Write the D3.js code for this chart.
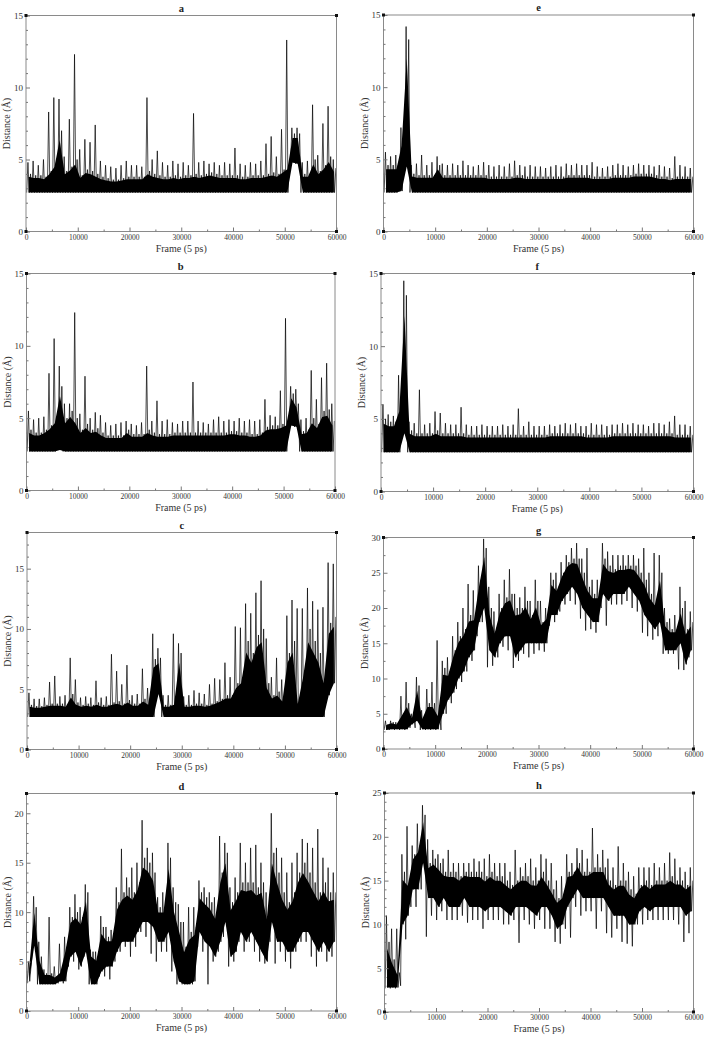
<!DOCTYPE html>
<html>
<head>
<meta charset="utf-8">
<script src="https://cdn.jsdelivr.net/npm/d3@7"></script>
<style>
  body { margin: 0; background: #fff; }
  svg { display: block; }
  text { font-family: "Liberation Serif", "DejaVu Serif", "Times New Roman", Times, serif; }
  .tick text { fill: #333; }
  .tick line { stroke: #777; }
</style>
</head>
<body>
<svg id="chart" width="707" height="1038"></svg>
<script>
// frame bins: each value is read off the picture for a 1000-frame slice
// lo / hi = dense band, pk = highest spike, dp = lowest dip
const binStarts = d3.range(60).map(i => i * 1000);
const xTicks = [0, 10000, 20000, 30000, 40000, 50000, 60000];

const aLo = [2.7,2.7,2.7,2.7,2.7,2.7,2.7,2.7,2.7,2.7, 2.7,2.7,2.7,2.7,2.7,2.7,2.7,2.7,2.7,2.7, 2.7,2.7,2.7,2.7,2.7,2.7,2.7,2.7,2.7,2.7, 2.7,2.7,2.7,2.7,2.7,2.7,2.7,2.7,2.7,2.7, 2.7,2.7,2.7,2.7,2.7,2.7,2.7,2.7,2.7,2.7, 2.7,4.8,4.7,2.7,2.7,2.7,2.7,2.7,2.7,2.7];
const aHi = [4.0,3.9,3.9,3.8,4.2,4.8,7.0,4.2,4.5,5.0, 3.9,4.3,4.2,4.0,3.8,3.7,3.6,3.6,3.7,3.8, 3.8,3.8,3.8,4.2,4.0,3.9,3.8,3.8,3.9,3.8, 3.9,3.9,4.0,3.9,4.0,4.1,4.0,3.9,3.9,3.9, 3.9,3.8,3.8,3.9,3.9,3.9,4.0,4.1,4.0,4.3, 4.6,6.8,6.8,4.0,4.0,5.0,4.2,4.6,5.2,4.4];
const aPk = [4.8,4.9,4.6,5.0,8.3,9.3,9.2,5.2,7.8,12.3, 5.7,6.4,6.2,7.4,4.9,4.6,4.5,4.4,4.6,4.9, 4.6,4.6,4.5,9.3,5.0,5.6,4.8,4.6,4.9,4.7, 4.8,4.6,8.2,4.8,4.9,4.7,4.8,4.6,4.8,4.7, 5.8,4.7,4.6,4.8,4.7,4.9,6.1,6.6,5.2,7.1, 13.3,7.2,7.2,4.8,4.9,8.8,5.3,7.5,8.7,5.0];

const bLo = [2.7,2.7,2.7,2.7,2.7,2.7,2.8,2.7,2.7,2.7, 2.7,2.7,2.7,2.7,2.7,2.7,2.7,2.7,2.7,2.7, 2.7,2.7,2.7,2.7,2.7,2.7,2.7,2.7,2.7,2.7, 2.7,2.7,2.7,2.7,2.7,2.7,2.7,2.7,2.7,2.7, 2.7,2.7,2.7,2.7,2.7,2.7,2.7,2.7,2.7,2.7, 2.7,4.5,4.4,2.7,2.7,2.7,2.7,2.7,2.7,2.7];
const bHi = [4.2,4.0,4.0,4.2,4.5,5.0,7.2,5.0,5.5,5.0, 4.2,4.6,4.2,4.3,4.0,3.8,3.8,3.8,3.8,4.2, 3.9,3.9,3.9,4.2,4.0,3.9,3.9,3.9,4.0,4.0, 4.0,4.0,4.0,4.0,4.0,4.0,4.0,4.0,4.0,4.1, 4.1,4.0,4.0,3.9,3.9,4.0,4.4,4.5,4.5,4.6, 4.8,6.7,6.0,4.1,4.2,5.0,4.6,5.5,5.6,4.8];
const bPk = [5.5,4.9,5.0,5.1,8.1,10.5,8.6,6.0,6.0,12.3, 5.3,7.9,5.0,5.4,5.2,4.7,4.5,4.6,4.7,4.8, 4.6,4.5,4.7,8.6,4.8,6.2,4.8,4.9,4.7,4.6, 4.8,4.8,7.5,4.8,4.7,4.6,4.9,5.1,4.8,4.9, 4.8,5.0,4.8,4.9,4.8,4.9,6.3,5.2,5.1,6.9, 11.9,7.2,7.0,4.9,5.0,8.3,6.3,7.8,8.8,6.0];

const cLo = [2.7,2.7,2.7,2.7,2.7,2.7,2.7,2.7,2.7,2.7, 2.7,2.7,2.7,2.7,2.7,2.7,2.7,2.7,2.7,2.7, 2.7,2.7,2.7,2.7,2.7,4.6,2.7,2.7,2.7,2.7, 2.7,2.7,2.7,2.7,2.7,2.7,2.7,2.7,2.7,2.7, 2.7,2.7,2.7,2.7,2.7,2.7,2.7,2.7,2.7,2.7, 2.7,2.7,2.7,2.7,2.7,2.7,2.7,2.7,4.5,5.5];
const cHi = [3.7,3.6,3.6,3.7,3.8,3.8,3.8,3.7,4.6,3.9, 3.7,3.8,3.7,3.9,3.7,3.7,3.9,4.0,3.8,4.1, 3.8,3.8,4.2,3.9,7.5,7.6,3.7,3.7,3.9,8.0, 3.7,3.7,3.8,3.8,3.7,3.8,4.0,4.2,4.5,4.5, 5.5,6.0,9.0,8.0,9.5,10.0,5.5,4.5,4.8,4.2, 8.0,9.0,4.0,6.5,10.0,9.0,8.0,6.0,10.5,11.0];
const cPk = [4.7,4.2,4.2,4.3,5.6,6.1,4.4,4.5,7.6,5.8, 4.3,4.4,4.3,5.7,4.3,4.4,7.9,6.5,5.4,7.0, 4.5,4.6,6.7,5.1,9.6,8.4,4.5,4.5,9.6,8.8, 4.4,4.5,4.9,4.7,4.6,5.4,5.9,5.8,7.2,6.0, 10.2,10.1,12.1,11.3,13.0,14.0,9.2,6.0,7.6,5.8, 11.1,12.4,11.7,11.7,13.4,12.3,11.6,11.8,15.5,15.4];

const dLo = [3.0,6.6,2.7,2.7,2.7,2.7,3.0,3.0,5.5,6.0, 4.5,6.0,2.7,2.7,4.0,4.5,4.5,6.0,7.0,7.0, 7.0,8.0,9.0,9.0,8.5,7.0,7.0,8.0,5.0,3.0, 2.7,2.7,3.0,8.0,7.0,6.5,5.5,7.0,9.0,5.5, 6.0,8.0,7.0,8.0,7.0,6.0,5.0,9.0,7.0,7.0, 6.0,6.0,7.0,8.0,8.0,7.0,6.0,7.0,6.0,7.0];
const dHi = [4.5,10.5,5.5,3.8,3.8,3.5,4.0,6.5,9.5,10.0, 9.5,12.0,6.0,5.5,8.5,7.5,7.5,11.0,12.0,12.5, 12.0,13.0,15.5,15.0,14.0,10.5,10.5,15.5,11.0,9.0, 6.5,8.0,8.5,12.0,11.5,11.0,10.0,14.0,16.0,11.0, 12.0,13.0,13.0,13.0,12.5,13.0,10.0,16.0,14.0,12.0, 11.0,12.0,14.0,15.0,14.0,13.0,12.0,13.0,12.0,12.0];
const dPk = [5.0,11.6,7.0,4.2,9.5,4.5,6.8,7.5,10.5,11.8, 10.5,12.8,6.2,6.0,9.6,8.5,8.2,12.5,16.4,13.5, 14.5,15.0,19.3,16.5,16.0,11.5,12.0,17.0,12.5,10.8, 9.0,10.5,10.5,13.2,12.5,12.0,11.5,17.7,17.0,12.5, 13.5,17.0,15.0,16.5,16.8,15.0,12.0,20.0,16.5,15.5, 14.0,15.0,16.0,17.4,17.0,16.5,18.4,15.5,14.5,14.0];
const dDp = [2.8,6.0,2.7,2.7,2.7,2.7,2.8,2.8,4.5,5.0, 4.2,5.5,2.7,2.7,3.5,3.5,3.2,5.0,6.0,6.5, 5.5,6.5,8.0,7.5,5.8,5.0,6.0,6.0,4.0,2.7, 2.7,2.7,2.7,6.5,6.0,2.7,5.0,6.0,7.5,4.5, 5.0,7.0,6.0,7.0,6.0,5.0,4.8,7.0,4.8,6.0, 5.0,4.3,6.0,7.0,7.0,5.5,4.5,6.0,5.0,5.5];

const eLo = [2.7,2.7,2.7,2.8,4.5,2.7,2.7,2.7,2.7,2.7, 2.7,2.7,2.7,2.7,2.7,2.7,2.7,2.7,2.7,2.7, 2.7,2.7,2.7,2.7,2.7,2.7,2.7,2.7,2.7,2.7, 2.7,2.7,2.7,2.7,2.7,2.7,2.7,2.7,2.7,2.7, 2.7,2.7,2.7,2.7,2.7,2.7,2.7,2.7,2.7,2.7, 2.7,2.7,2.7,2.7,2.7,2.7,2.7,2.7,2.7,2.7];
const eHi = [4.6,4.6,4.6,6.5,13.3,4.0,3.9,3.9,3.9,3.9, 4.6,3.9,3.9,3.9,3.9,3.9,3.9,3.9,3.9,3.9, 3.8,3.8,3.8,3.8,3.8,3.9,3.9,3.8,3.8,3.8, 3.8,3.8,3.8,3.8,3.8,3.9,3.9,3.9,3.9,3.9, 3.8,3.8,3.8,3.8,3.9,3.9,3.9,3.9,4.0,4.0, 4.0,4.0,3.9,3.8,3.8,3.7,3.8,3.8,3.8,3.8];
const ePk = [5.5,5.2,5.3,7.2,14.2,4.6,4.7,5.3,4.6,4.8, 5.2,4.7,4.6,4.7,4.6,4.9,4.6,4.5,4.6,4.8, 4.6,4.5,4.6,4.5,4.7,4.9,4.6,4.5,4.6,4.5, 4.5,4.4,4.5,4.6,4.5,4.7,4.6,4.7,4.6,4.6, 4.8,4.5,4.4,4.5,4.6,4.7,4.6,4.5,4.6,4.7, 4.6,4.6,4.5,4.6,4.5,4.4,5.2,4.6,4.5,4.4];

const fLo = [2.7,2.7,2.7,2.7,4.0,2.7,2.7,2.7,2.7,2.7, 2.7,2.7,2.7,2.7,2.7,2.7,2.7,2.7,2.7,2.7, 2.7,2.7,2.7,2.7,2.7,2.7,2.7,2.7,2.7,2.7, 2.7,2.7,2.7,2.7,2.7,2.7,2.7,2.7,2.7,2.7, 2.7,2.7,2.7,2.7,2.7,2.7,2.7,2.7,2.7,2.7, 2.7,2.7,2.7,2.7,2.7,2.7,2.7,2.7,2.7,2.7];
const fHi = [5.0,4.8,4.8,6.0,13.5,4.2,4.0,4.0,4.0,4.0, 4.2,4.0,4.0,4.0,4.0,4.0,3.9,3.9,3.9,3.9, 3.9,3.9,3.9,3.9,3.9,3.9,3.9,3.9,3.9,3.9, 3.9,3.9,4.0,4.0,4.0,4.0,4.0,4.0,4.0,3.9, 3.9,3.9,3.9,3.9,4.0,4.0,4.0,4.0,4.0,4.0, 4.0,4.0,4.0,4.0,4.0,4.0,3.9,3.9,3.9,3.9];
const fPk = [6.0,5.3,5.2,8.0,14.5,4.8,4.7,7.0,4.6,4.7, 5.5,5.4,4.7,4.6,4.6,5.8,4.6,4.5,4.5,4.6, 4.5,4.5,4.5,4.6,4.5,4.6,5.7,4.5,4.8,4.5, 4.5,4.5,4.6,4.5,4.6,4.7,4.6,4.7,4.5,4.5, 4.7,4.6,4.6,4.5,4.6,4.6,4.7,4.6,4.7,4.6, 4.6,4.5,4.7,4.7,4.6,4.8,5.2,4.6,4.6,4.5];

const gLo = [2.7,2.8,2.8,2.8,2.8,3.5,4.0,2.8,2.8,2.8, 2.8,5.0,7.0,8.0,10.0,11.0,13.0,14.0,18.0,20.0, 14.0,13.0,15.0,16.0,16.0,13.0,14.0,15.0,15.0,15.0, 15.0,15.0,19.0,19.0,21.0,22.0,23.0,22.0,20.0,19.0, 18.0,18.0,22.0,21.0,22.0,22.0,22.0,23.0,22.0,21.0, 19.0,18.0,17.0,18.0,14.0,14.0,14.0,15.0,12.0,14.0];
const gHi = [3.5,3.8,3.6,5.0,6.5,4.5,9.0,4.5,6.5,6.5, 5.0,11.5,11.0,14.0,16.0,17.0,19.0,19.0,24.0,28.5, 20.0,17.0,20.0,21.5,22.0,20.0,20.0,21.0,19.0,21.0, 18.0,19.0,24.0,23.0,25.0,26.5,27.0,27.0,25.0,23.0, 22.0,22.0,27.0,26.0,25.5,26.0,26.0,26.0,26.0,25.0, 24.0,22.0,21.0,25.0,18.0,17.0,17.0,20.0,17.0,18.0];
const gPk = [4.0,4.0,3.8,7.5,9.5,5.0,10.2,5.5,8.5,9.5, 15.4,12.5,13.0,16.0,18.0,20.0,23.4,22.5,26.0,29.8, 23.0,19.5,22.0,24.0,25.5,22.0,21.5,23.0,21.0,24.0, 21.0,20.0,25.0,25.0,26.5,27.5,28.5,29.2,27.0,28.5, 24.0,24.0,29.2,28.0,27.5,27.5,27.5,27.5,27.5,27.0, 28.5,25.0,27.8,27.5,20.0,18.5,19.0,23.0,21.0,19.5];
const gDp = [2.7,2.7,2.7,2.7,2.7,3.0,3.0,2.7,2.7,2.7, 2.7,2.7,5.0,6.5,8.5,9.5,11.0,12.5,16.0,18.0, 11.6,11.8,13.0,14.5,14.0,11.5,12.5,13.5,13.0,13.5, 14.0,13.8,17.5,18.0,19.5,20.5,21.0,20.5,18.5,16.8, 17.0,16.5,20.0,17.5,20.5,20.5,20.5,21.0,20.0,19.5, 16.5,16.0,15.5,16.0,13.5,13.5,13.5,11.3,11.2,13.0];

const hLo = [2.8,2.8,2.8,10.0,11.0,14.0,14.0,17.0,13.0,13.0, 12.0,13.0,12.0,12.0,12.0,13.0,12.0,12.0,12.0,11.5, 12.0,12.0,12.0,11.5,11.0,12.0,12.0,12.0,11.5,11.0, 12.0,12.0,11.0,9.5,10.0,12.0,13.0,14.0,13.0,13.0, 13.0,13.0,13.0,12.0,11.0,11.0,11.0,10.0,10.0,11.5, 12.0,11.5,12.0,12.0,12.0,12.0,12.0,12.0,11.0,11.5];
const hHi = [8.0,6.0,4.5,16.0,15.0,18.0,19.0,22.5,17.0,17.5, 17.0,16.0,16.0,16.0,15.5,16.0,16.0,16.0,16.0,15.5, 16.0,15.5,15.5,15.0,14.5,15.0,15.5,15.5,15.0,15.0, 16.0,15.0,14.0,13.0,13.5,16.0,16.0,17.0,16.0,16.0, 16.5,16.5,16.5,15.0,14.5,15.0,15.0,14.0,13.5,14.5, 15.0,14.5,15.0,15.0,15.0,15.5,15.0,15.0,14.5,15.0];
const hPk = [11.0,9.5,9.5,18.0,21.2,19.0,21.5,23.6,19.7,18.5, 18.0,17.5,18.5,17.0,17.0,17.0,17.0,17.5,17.2,17.5, 18.0,17.0,17.0,17.0,16.0,18.5,16.5,17.0,17.5,16.5, 18.0,17.5,17.0,15.0,15.5,18.0,17.0,18.7,18.5,17.5, 21.0,18.0,18.5,17.5,16.5,18.9,17.0,16.0,15.5,16.5, 16.5,16.5,17.0,16.5,17.0,18.2,17.5,16.5,16.0,16.5];
const hDp = [2.7,2.7,2.7,3.0,8.3,12.0,12.0,14.0,8.6,11.0, 10.5,11.5,10.5,10.5,10.5,11.0,10.2,10.5,10.5,9.5, 10.5,10.5,10.5,10.0,10.0,10.5,7.9,10.5,10.0,9.5, 10.5,9.5,9.5,8.0,7.8,9.5,8.5,12.0,11.0,11.5, 11.5,9.5,11.5,9.0,8.5,9.5,8.0,7.8,7.5,10.0, 10.0,10.5,10.5,10.5,10.5,10.5,10.5,10.0,8.0,9.0];

// panel layout: plot box [left, top, right, bottom] in pixels
const panels = [
  { id: "a", lo: aLo, hi: aHi, pk: aPk, yMax: 15, minor: 1,   box: [26, 15.5, 336.5, 231.5] },
  { id: "b", lo: bLo, hi: bHi, pk: bPk, yMax: 15, minor: 1,   box: [26.5, 273.5, 335, 490.5] },
  { id: "c", lo: cLo, hi: cHi, pk: cPk, yMax: 18, minor: 1,   box: [27, 532.5, 336.5, 749.5] },
  { id: "d", lo: dLo, hi: dHi, pk: dPk, dp: dDp, yMax: 22, minor: 1, box: [26.5, 793.5, 336.5, 1011] },
  { id: "e", lo: eLo, hi: eHi, pk: ePk, yMax: 15, minor: 1,   box: [383.5, 15, 693.5, 231.5] },
  { id: "f", lo: fLo, hi: fHi, pk: fPk, yMax: 15, minor: 1,   box: [381, 273.5, 693.5, 491.5] },
  { id: "g", lo: gLo, hi: gHi, pk: gPk, dp: gDp, yMax: 30, minor: 2.5, box: [383.5, 537.5, 693.5, 749] },
  { id: "h", lo: hLo, hi: hHi, pk: hPk, dp: hDp, yMax: 25, minor: 1, box: [384.5, 793, 693.5, 1012] }
];

const svg = d3.select("#chart");
svg.append("rect").attr("width", 707).attr("height", 1038).attr("fill", "#fff");

panels.forEach(p => drawPanel(p));

function drawPanel(p) {
  const [x0, y0, x1, y1] = p.box;
  const x = d3.scaleLinear().domain([0, 60000]).range([x0, x1]);
  const y = d3.scaleLinear().domain([0, p.yMax]).range([y1, y0]);
  const g = svg.append("g").attr("class", "panel-" + p.id);

  // trace: inside each bin the line visits dip, peak, band bottom and band top
  const trace = [];
  binStarts.forEach((f, i) => {
    trace.push([f + 125, p.dp ? p.dp[i] : p.lo[i]]);
    trace.push([f + 375, p.pk[i]]);
    trace.push([f + 625, p.lo[i]]);
    trace.push([f + 875, p.hi[i]]);
  });

  // solid core of the band
  const core = d3.area()
    .x((d, i) => x(binStarts[i] + 500))
    .y0((d, i) => y(p.lo[i]))
    .y1((d, i) => y(p.lo[i] + (p.hi[i] - p.lo[i]) * 0.85));
  g.append("path")
    .datum(binStarts)
    .attr("d", core)
    .attr("fill", "#000");

  const line = d3.line().x(d => x(d[0])).y(d => y(d[1]));
  g.append("path")
    .datum(trace)
    .attr("d", line)
    .attr("fill", "none")
    .attr("stroke", "#000")
    .attr("stroke-width", 0.7)
    .attr("stroke-linejoin", "miter");

  // frame
  g.append("rect")
    .attr("x", x0).attr("y", y0)
    .attr("width", x1 - x0).attr("height", y1 - y0)
    .attr("fill", "none")
    .attr("stroke", "#8a8a8a")
    .attr("stroke-width", 1);

  // x axis, ticks pointing inward
  const xAxis = g.append("g").attr("transform", `translate(0,${y1})`);
  xAxis.call(d3.axisBottom(x).tickValues(xTicks).tickSize(-4).tickSizeOuter(0).tickPadding(3).tickFormat(d3.format("d")));
  xAxis.append("g").call(d3.axisBottom(x).tickValues(d3.range(5000, 60000, 10000)).tickSize(-2).tickFormat(""));
  xAxis.selectAll(".domain").remove();
  xAxis.attr("font-family", null);
  xAxis.selectAll("text").attr("font-size", 7.5);

  // y axis
  const majors = d3.range(0, p.yMax + 0.01, 5);
  const minors = d3.range(0, p.yMax + 0.01, p.minor).filter(v => v % 5 !== 0);
  const yAxis = g.append("g").attr("transform", `translate(${x0},0)`);
  yAxis.call(d3.axisLeft(y).tickValues(majors).tickSize(-4).tickSizeOuter(0).tickPadding(3));
  yAxis.append("g").call(d3.axisLeft(y).tickValues(minors).tickSize(-2).tickFormat(""));
  yAxis.selectAll(".domain").remove();
  yAxis.attr("font-family", null);
  yAxis.selectAll("text").attr("font-size", 9);

  // corner markers
  const corners = [[0, 0], [0, p.yMax], [60000, p.yMax], [60000, 0]];
  g.selectAll(".corner")
    .data(corners)
    .join("rect")
      .attr("class", "corner")
      .attr("x", d => x(d[0]) - 1.5).attr("y", d => y(d[1]) - 1.5)
      .attr("width", 3).attr("height", 3)
      .attr("fill", "#111");

  // titles
  g.append("text")
    .attr("x", (x0 + x1) / 2).attr("y", y0 - 4)
    .attr("text-anchor", "middle")
    .attr("font-weight", "bold")
    .attr("font-size", 10.5)
    .attr("fill", "#222")
    .text(p.id);

  g.append("text")
    .attr("x", (x0 + x1) / 2).attr("y", y1 + 20)
    .attr("text-anchor", "middle")
    .attr("font-size", 10)
    .attr("fill", "#333")
    .text("Frame (5 ps)");

  g.append("text")
    .attr("transform", `translate(${x0 - 16},${(y0 + y1) / 2}) rotate(-90)`)
    .attr("text-anchor", "middle")
    .attr("font-size", 10)
    .attr("fill", "#333")
    .text("Distance (Å)");
}
</script>
</body>
</html>
